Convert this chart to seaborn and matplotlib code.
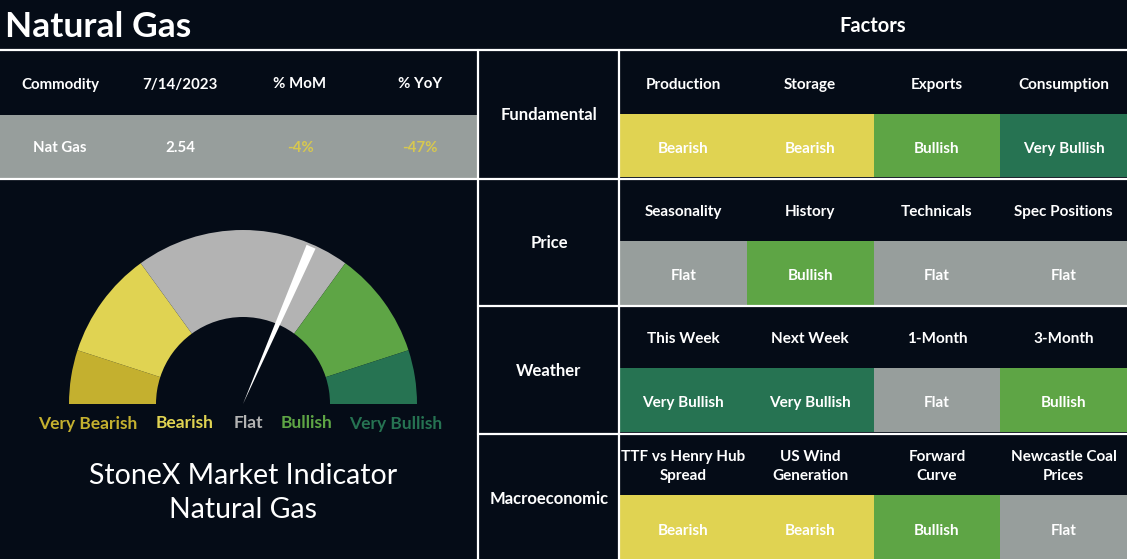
import numpy as np
import matplotlib.pyplot as plt
import seaborn as sns
from matplotlib.colors import ListedColormap

W, H = 1127, 559

# Summary table (left top)
table_headers = ["Commodity", "7/14/2023", "% MoM", "% YoY"]
table_values = ["Nat Gas", "2.54", "-4%", "-47%"]

# Gauge
signal_levels = ["Very Bearish", "Bearish", "Flat", "Bullish", "Very Bullish"]
gauge_shares = [1, 2, 4, 2, 1]
needle_score = 6.3  # position on a 0-10 scale

# Factor grid
groups = ["Fundamental", "Price", "Weather", "Macroeconomic"]
factor_names = [
    ["Production", "Storage", "Exports", "Consumption"],
    ["Seasonality", "History", "Technicals", "Spec Positions"],
    ["This Week", "Next Week", "1-Month", "3-Month"],
    ["TTF vs Henry Hub\nSpread", "US Wind\nGeneration", "Forward\nCurve", "Newcastle Coal\nPrices"],
]
factor_signals = [
    ["Bearish", "Bearish", "Bullish", "Very Bullish"],
    ["Flat", "Bullish", "Flat", "Flat"],
    ["Very Bullish", "Very Bullish", "Flat", "Bullish"],
    ["Bearish", "Bearish", "Bullish", "Flat"],
]

# colours
bg = "#050c17"
level_colors = ["#c4b02f", "#e0d352", "#979e9c", "#5ea545", "#267352"]
gauge_colors = ["#c4b02f", "#e0d352", "#b3b3b3", "#5ea545", "#267352"]

sns.set_theme(style="white")
plt.rcParams["font.family"] = ["Lato", "DejaVu Sans"]

fig = plt.figure(figsize=(W / 100, H / 100), dpi=100, facecolor=bg)

# --- factor heatmap (header rows masked) ---
n_rows = 2 * len(groups)
codes = np.full((n_rows, 4), np.nan)
annot = np.full((n_rows, 4), "", dtype=object)
for i, row in enumerate(factor_signals):
    for j, s in enumerate(row):
        codes[2 * i + 1, j] = signal_levels.index(s)
        annot[2 * i + 1, j] = s
mask = np.isnan(codes)

hax = fig.add_axes([620 / W, 0, 507 / W, 509 / H])
sns.heatmap(codes, mask=mask, ax=hax, cmap=ListedColormap(level_colors),
            vmin=-0.5, vmax=4.5, cbar=False, annot=annot, fmt="",
            annot_kws=dict(color="white", fontsize=11, fontweight="bold"),
            linewidths=0, xticklabels=False, yticklabels=False)
hax.set_facecolor(bg)
for t in hax.texts:
    t.set_va("center_baseline")
    t.set_y(t.get_position()[1] + 0.03)
for i, names in enumerate(factor_names):
    for j, name in enumerate(names):
        hax.text(j + 0.5, 2 * i + 0.55, name, ha="center", va="center",
                 color="white", fontsize=11, fontweight="bold", linespacing=1.5)

# --- gauge ---
R = 174
cx, cy = 243, 404
gax = fig.add_axes([(cx - R) / W, (H - cy - R) / H, 2 * R / W, 2 * R / H])
gax.pie(gauge_shares + [sum(gauge_shares)], colors=gauge_colors + ["none"],
        startangle=180, counterclock=False, radius=1,
        wedgeprops=dict(width=0.5, linewidth=0))
ang = np.deg2rad(180 - 180 * needle_score / 10)
r, hw = 0.985, 0.028
nx = [0, r * np.cos(ang) - hw * np.sin(ang), r * np.cos(ang) + hw * np.sin(ang)]
ny = [0, r * np.sin(ang) + hw * np.cos(ang), r * np.sin(ang) - hw * np.cos(ang)]
gax.fill(nx, ny, color="white", lw=0, zorder=5)
gax.set_xlim(-1, 1)
gax.set_ylim(-1, 1)
gax.axis("off")

# --- overlay in pixel coordinates ---
ax = fig.add_axes([0, 0, 1, 1])
ax.set_xlim(0, W)
ax.set_ylim(H, 0)
ax.axis("off")
ax.patch.set_alpha(0)

ax.text(5, 24, "Natural Gas", color="white", fontsize=25.5, fontweight="bold", va="center_baseline")
ax.text(873, 24, "Factors", color="white", fontsize=14.5, fontweight="bold", ha="center", va="center_baseline")

# summary table
ax.fill_between([0, 477], 115, 178, color="#979e9c", lw=0)
value_colors = ["white", "white", "#d7c84f", "#d7c84f"]
for k, (h, v) in enumerate(zip(table_headers, table_values)):
    x = 60 + 120 * k
    ax.text(x, 83, h, color="white", fontsize=10.8, fontweight="bold", ha="center", va="center_baseline")
    ax.text(x, 147, v, color=value_colors[k], fontsize=10.8, fontweight="bold", ha="center", va="center_baseline")

# gauge labels
label_x = [88, 185, 248, 306, 396]
for x, lab, c in zip(label_x, signal_levels, gauge_colors):
    ax.text(x, 422, lab, color=c, fontsize=12.5, fontweight="bold", ha="center", va="center_baseline")

ax.text(243, 473, "StoneX Market Indicator", color="white", fontsize=20.5, ha="center", va="center_baseline")
ax.text(243, 508, "Natural Gas", color="white", fontsize=20.5, ha="center", va="center_baseline")

# group labels
for i, g in enumerate(groups):
    ax.text(549, 114 + 128 * i, g, color="white", fontsize=12, fontweight="bold", ha="center", va="center_baseline")

# white grid lines
lw = 1.6
ax.plot([0, W], [50, 50], color="white", lw=lw)
ax.plot([0, W], [179, 179], color="white", lw=lw)
for y in [306, 434]:
    ax.plot([478, W], [y, y], color="white", lw=lw)
for x in [478, 619]:
    ax.plot([x, x], [50, H], color="white", lw=lw)

fig.savefig("out.png", dpi=100, facecolor=bg)
